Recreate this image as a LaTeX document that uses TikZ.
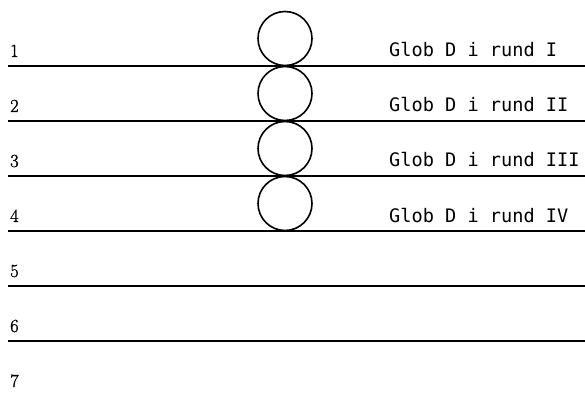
\documentclass[tikz,border=0pt]{standalone}
\usepackage{fontspec}
\newfontfamily\globfont{DejaVu Sans Mono}
\newfontfamily\numfont[FakeBold=1.2]{Latin Modern Roman}
\begin{document}
\begin{tikzpicture}[x=1pt,y=-1pt,
  rule/.style={line width=1.8pt},
  glob/.style={circle,draw,line width=1.6pt,minimum size=54pt,inner sep=0pt},
  num/.style={anchor=base west,inner sep=0pt,font=\numfont\fontsize{18.5}{19}\selectfont},
  lbl/.style={anchor=base west,inner sep=0pt,font=\globfont\fontsize{18.6}{19}\selectfont}]
\useasboundingbox (0,0) rectangle (585,395);
\foreach \i in {1,...,6} {
  \coordinate (L\i) at (8,{66+55*(\i-1)});
  \coordinate (R\i) at (585,{66+55*(\i-1)});
  \draw[rule] (L\i) -- (R\i);
}
\foreach \i in {1,...,7} {
  \node[num] (n\i) at (10,{57+55*(\i-1)}) {\i};
}
\foreach \i/\r in {1/I,2/II,3/III,4/IV} {
  \node[glob] (c\i) at (285,{38.5+55*(\i-1)}) {};
  \node[lbl] (t\i) at (389,{57+55*(\i-1)}) {Glob D i rund \r};
}
\end{tikzpicture}
\end{document}
